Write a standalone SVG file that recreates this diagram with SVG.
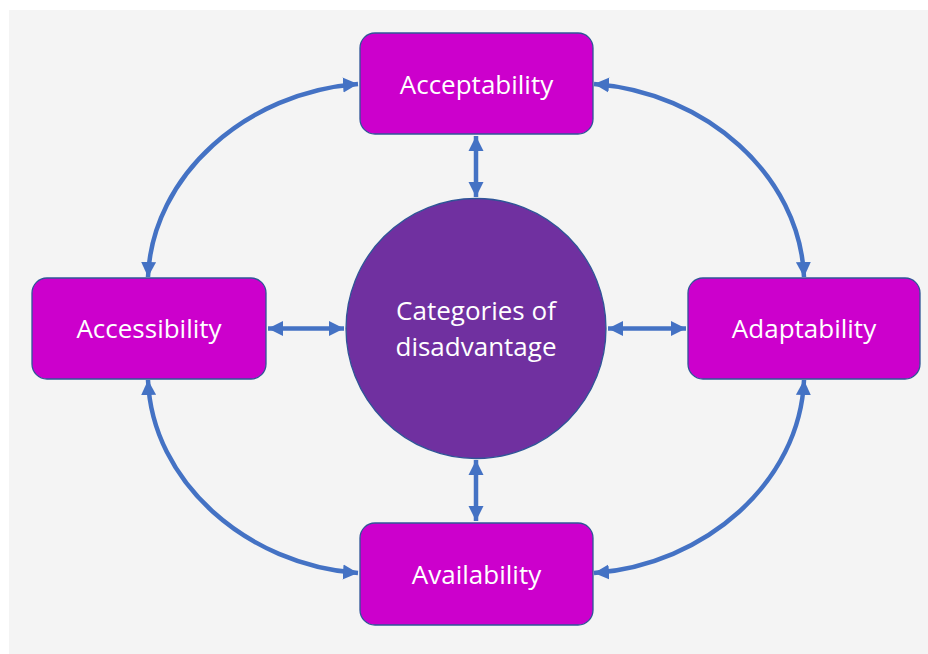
<svg xmlns="http://www.w3.org/2000/svg" width="928" height="654" viewBox="0 0 928 654">
<defs>
<style>
.box{fill:#CC00CC;stroke:#2F5597;stroke-width:1.3}
.lbl{font-family:"Open Sans","Noto Sans",sans-serif;font-size:26px;fill:#FFFFFF;text-anchor:middle}
.con{fill:none;stroke:#4472C4;stroke-width:4.5;marker-start:url(#ah);marker-end:url(#ah)}
</style>
<marker id="ah" markerUnits="userSpaceOnUse" markerWidth="16" markerHeight="16" viewBox="0 0 16 16" refX="15" refY="8" orient="auto-start-reverse">
<path d="M0,0.5 L15,8 L0,15.5 z" fill="#4472C4"/>
</marker>
</defs>
<rect x="9" y="10" width="919" height="644" fill="#F4F4F4"/>
<g id="connectors">
<path class="con" d="M476,136 L476,197"/>
<path class="con" d="M476,460 L476,521"/>
<path class="con" d="M268,328.5 L344,328.5"/>
<path class="con" d="M608,328.5 L686,328.5"/>
<path class="con" d="M594,84 C705,92 800,175 804,277"/>
<path class="con" d="M358,84 C247,92 152,175 148,277"/>
<path class="con" d="M594,573 C705,565 800,482 804,380"/>
<path class="con" d="M358,573 C247,565 152,482 148,380"/>
</g>
<g id="center">
<circle cx="476" cy="328.5" r="130" fill="#7030A0" stroke="#2F5597" stroke-width="1.3"/>
<text class="lbl" x="476" y="320">Categories of</text>
<text class="lbl" x="476" y="356">disadvantage</text>
</g>
<g id="acceptability">
<rect class="box" x="360" y="33" width="233" height="101" rx="15"/>
<text class="lbl" x="476.5" y="94">Acceptability</text>
</g>
<g id="accessibility">
<rect class="box" x="32" y="278" width="234" height="101" rx="15"/>
<text class="lbl" x="149" y="338">Accessibility</text>
</g>
<g id="adaptability">
<rect class="box" x="688" y="278" width="232" height="101" rx="15"/>
<text class="lbl" x="804" y="338">Adaptability</text>
</g>
<g id="availability">
<rect class="box" x="360" y="523" width="233" height="102" rx="15"/>
<text class="lbl" x="476.5" y="584">Availability</text>
</g>
</svg>
